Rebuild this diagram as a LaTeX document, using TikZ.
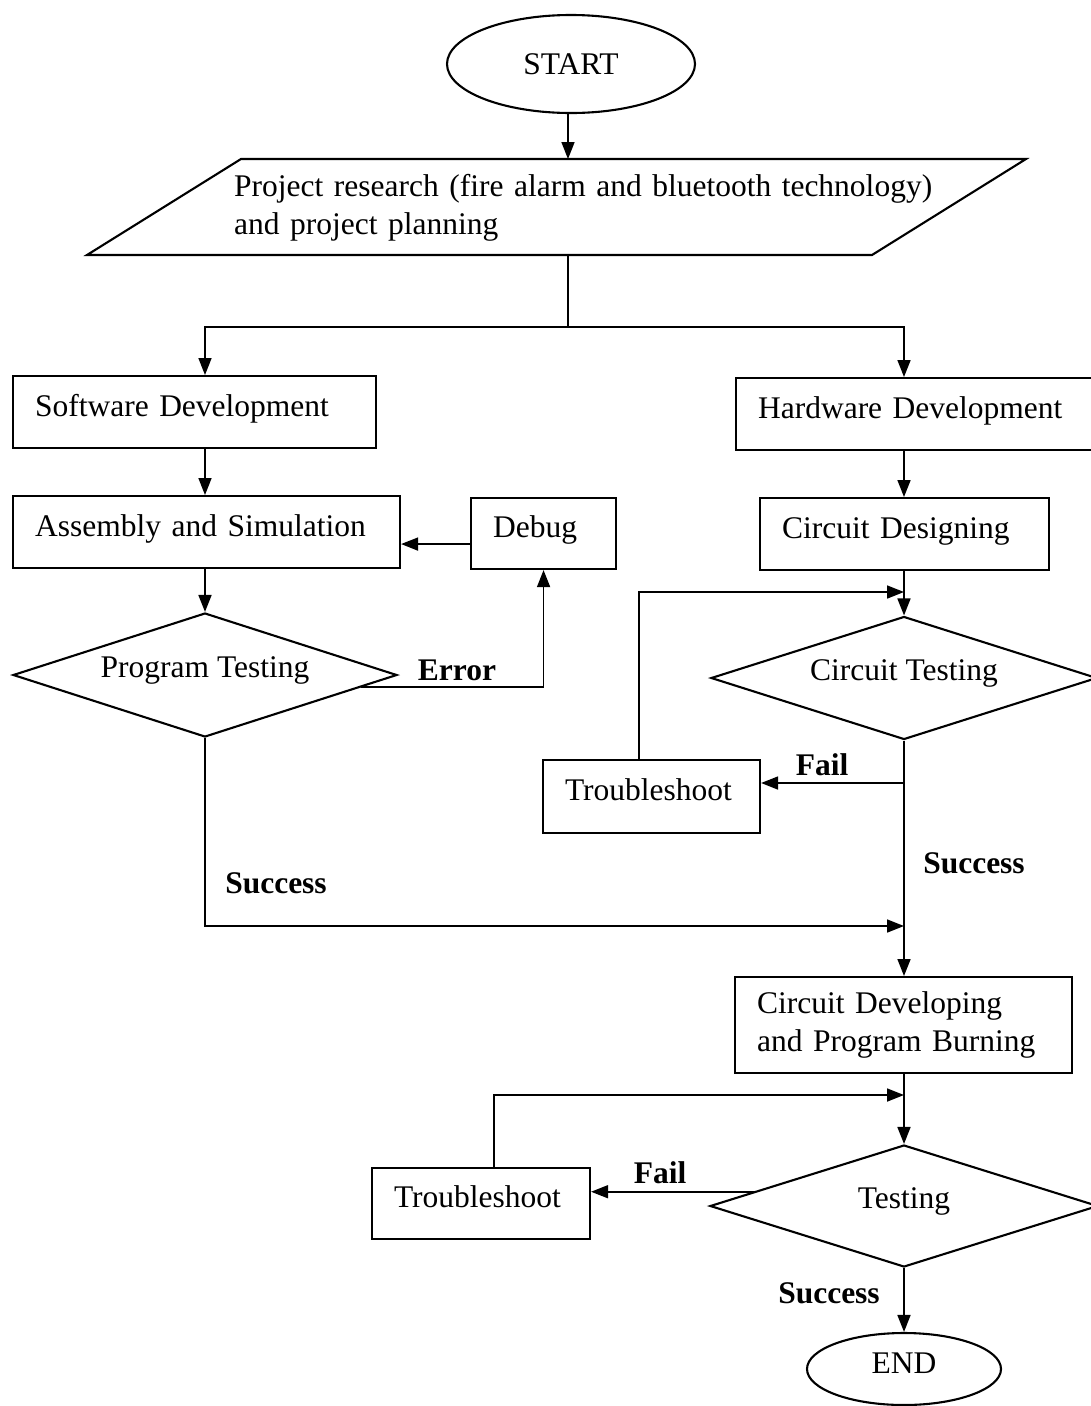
\documentclass[tikz,border=0pt]{standalone}
\usepackage{fontspec}
\setmainfont{Liberation Serif}
\usetikzlibrary{shapes.geometric, arrows.meta, calc}

\begin{document}
\begin{tikzpicture}[x=1pt, y=-1pt, font=\fontsize{31.5pt}{38pt}\selectfont,
    conn/.style={line width=1.7pt},
    arr/.style={conn, -{Triangle[length=17pt, width=13pt]}},
    block/.style={draw, line width=2.1pt, rectangle, anchor=north west, inner xsep=22pt, inner ysep=4pt, align=left},
    procbox/.style={block, text height=26pt, text depth=18pt},
    decision/.style={draw, line width=2.1pt, diamond, aspect=3, inner sep=2pt, text height=26pt, text depth=22pt},
    terminal/.style={draw, line width=2.1pt, ellipse, inner sep=2pt},
    tag/.style={font=\fontsize{31.5pt}{38pt}\selectfont\bfseries}]
    \useasboundingbox (0,0) rectangle (1091,1406);

    % Start and planning
    \node[terminal, minimum width=248pt, minimum height=98pt] (start) at (571,64) {START};
    \draw[line width=2.1pt] (87,255) -- (241,159) -- (1026,159) -- (872,255) -- cycle;
    \node[anchor=west, text width=760pt, align=left, inner sep=0pt] (plan) at (234,208)
        {Project research (fire alarm and bluetooth technology)\\and project planning};
    \coordinate (plantop) at (568,159);
    \coordinate (planbot) at (568,255);
    \coordinate (split) at (568,327);
    \coordinate (lcol) at (205,0);
    \coordinate (rcol) at (904,0);

    % Software side
    \node[procbox, text width=319pt, minimum height=72pt] (software) at (12,375) {Software Development};
    \node[procbox, text width=343pt, minimum height=72pt] (assembly) at (12,495) {Assembly and Simulation};
    \node[procbox, text width=101pt, minimum height=71pt] (debug) at (470,497) {Debug};
    \node[decision, minimum width=384pt, minimum height=124pt] (progtest) at (205,675) {Program Testing};

    % Hardware side
    \node[procbox, text width=319pt, minimum height=72pt] (hardware) at (735,377) {Hardware Development};
    \node[procbox, text width=245pt, minimum height=72pt] (design) at (759,497) {Circuit Designing};
    \node[decision, minimum width=386pt, minimum height=123pt] (cirtest) at (904,678) {Circuit Testing};
    \node[procbox, text width=173pt, minimum height=73pt] (trouble1) at (542,759) {Troubleshoot};

    % Final stage
    \node[block, text width=293pt, minimum height=96pt] (develop) at (734,976) {Circuit Developing\\and Program Burning};
    \node[decision, minimum width=388pt, minimum height=122pt] (testing) at (904,1206) {Testing};
    \node[procbox, text width=174pt, minimum height=71pt] (trouble2) at (371,1167) {Troubleshoot};
    \node[terminal, minimum width=194pt, minimum height=72pt, text height=26pt, text depth=18pt] (stop) at (904,1369) {END};

    % Top connectors
    \draw[arr] (start.south -| plantop) -- (plantop);
    \draw[conn] (planbot) -- (split);
    \draw[arr] (split) -| (software.north -| lcol);
    \draw[arr] (split) -| (hardware.north -| rcol);

    % Software loop
    \draw[arr] (software.south -| lcol) -- (assembly.north -| lcol);
    \draw[arr] (assembly.south -| lcol) -- (progtest.north);
    \coordinate (dbgin) at ([yshift=-10.5pt]debug.west);
    \draw[arr] (dbgin) -- (dbgin -| assembly.east);
    \coordinate (errout) at ($(progtest.east)!0.19!(progtest.south)$);
    \draw[arr] (errout) -| (debug.south);
    \coordinate (swjoin) at (904,926);
    \draw[arr] (progtest.south) |- (swjoin);

    % Hardware loop
    \draw[arr] (hardware.south -| rcol) -- (design.north -| rcol);
    \draw[arr] (design.south -| rcol) -- (cirtest.north);
    \coordinate (loopin1) at (904,592);
    \draw[arr] ([xshift=-12.5pt]trouble1.north) |- (loopin1);
    \coordinate (failout1) at (904,783);
    \draw[arr] (failout1) -- (failout1 -| trouble1.east);
    \draw[arr] (cirtest.south) -- (cirtest.south |- develop.north);

    % Testing loop
    \draw[arr] (develop.south -| testing.north) -- (testing.north);
    \coordinate (loopin2) at (904,1095);
    \draw[arr] ([xshift=13pt]trouble2.north) |- (loopin2);
    \coordinate (failout2) at ($(testing.west)!0.23!(testing.north)$);
    \draw[arr] (failout2) -- (failout2 -| trouble2.east);
    \draw[arr] (testing.south) -- (stop.north);

    % Labels
    \node[tag] (errtag) at (457,670) {Error};
    \node[tag] (succtag1) at (276,883) {Success};
    \node[tag] (failtag1) at (822,765) {Fail};
    \node[tag] (succtag2) at (974,863) {Success};
    \node[tag] (failtag2) at (660,1173) {Fail};
    \node[tag] (succtag3) at (829,1293) {Success};
\end{tikzpicture}
\end{document}
